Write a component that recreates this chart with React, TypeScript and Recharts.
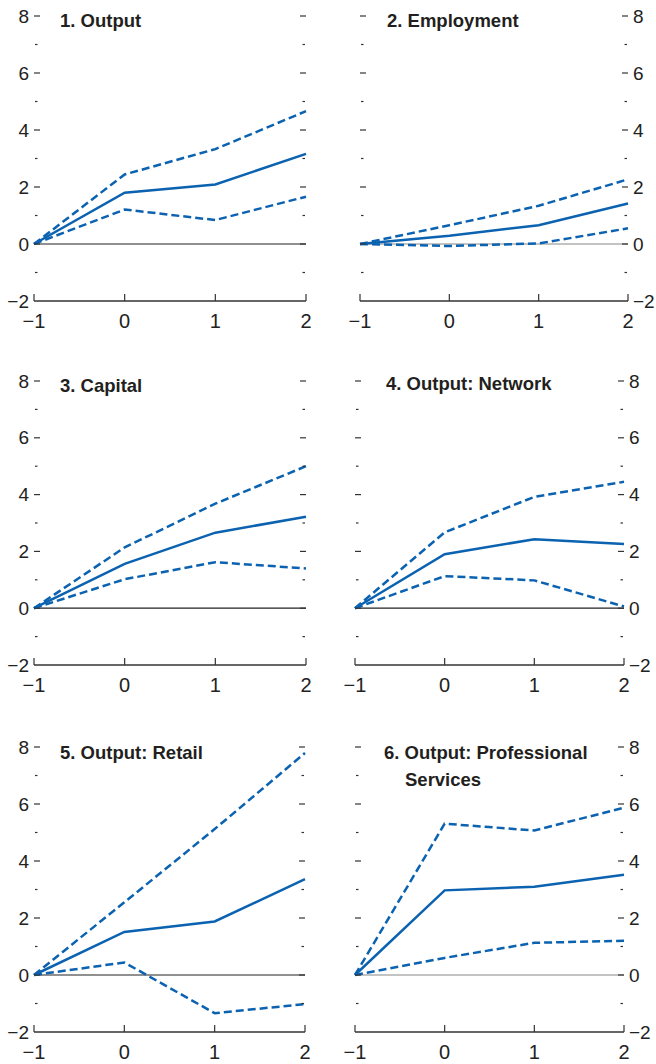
import React from "react";
import { LineChart, Line, XAxis, YAxis, ReferenceLine } from "recharts";

// horizon (years after shock)
const periods = [-1, 0, 1, 2];
const yTicks = [-2, -1, 0, 1, 2, 3, 4, 5, 6, 7, 8];

const outputMid = [0, 1.8, 2.09, 3.16];
const outputHi = [0, 2.44, 3.33, 4.66];
const outputLo = [0, 1.21, 0.84, 1.66];

const employmentMid = [0, 0.29, 0.66, 1.42];
const employmentHi = [0, 0.66, 1.34, 2.27];
const employmentLo = [0, -0.07, 0.02, 0.55];

const capitalMid = [0, 1.56, 2.66, 3.22];
const capitalHi = [0, 2.14, 3.68, 5.0];
const capitalLo = [0, 1.02, 1.62, 1.4];

const networkMid = [0, 1.9, 2.43, 2.26];
const networkHi = [0, 2.67, 3.92, 4.45];
const networkLo = [0, 1.13, 0.98, 0.06];

const retailMid = [0, 1.51, 1.88, 3.36];
const retailHi = [0, 2.55, 5.12, 7.79];
const retailLo = [0, 0.44, -1.34, -1.02];

const proMid = [0, 2.97, 3.1, 3.52];
const proHi = [0, 5.31, 5.07, 5.87];
const proLo = [0, 0.6, 1.13, 1.2];

const BLUE = "#0b62b0";
const AXIS = "#333";
const FONT = "'Liberation Sans', Arial, sans-serif";

function fmt(v: number) {
  return v < 0 ? `\u2212${Math.abs(v)}` : `${v}`;
}

function build(mid: number[], hi: number[], lo: number[]) {
  return periods.map((p, i) => ({ t: p, mid: mid[i], hi: hi[i], lo: lo[i] }));
}

// eslint-disable-next-line @typescript-eslint/no-explicit-any
function YTick({ x, y, payload, side, showLabel }: any) {
  const v = payload.value as number;
  const major = v % 2 === 0;
  const dir = side === "left" ? 1 : -1;
  const len = major ? 6 : 3.5;
  return (
    <g>
      {v !== -2 && (
        <line x1={x + dir * (major ? 0 : 1)} x2={x + dir * len} y1={y} y2={y} stroke={AXIS} strokeWidth={1.2} />
      )}
      {showLabel && major && (
        <text
          x={x - dir * 5}
          y={y}
          textAnchor={side === "left" ? "end" : "start"}
          dominantBaseline="central"
          fontSize={19}
          fontFamily={FONT}
          fill="#222"
        >
          {fmt(v)}
        </text>
      )}
    </g>
  );
}

// eslint-disable-next-line @typescript-eslint/no-explicit-any
function XTick({ x, y, payload }: any) {
  return (
    <g>
      <line x1={x} x2={x} y1={y} y2={y - 7} stroke={AXIS} strokeWidth={1.2} />
      <text x={x} y={y + 27} textAnchor="middle" fontSize={20} fontFamily={FONT} fill="#222">
        {fmt(payload.value)}
      </text>
    </g>
  );
}

interface PanelProps {
  title: string[];
  mid: number[];
  hi: number[];
  lo: number[];
  left: number;
  top: number;
  width: number;
  plotTop: number;
  plotHeight: number;
  leftW: number;
  rightW: number;
  labelSide: "left" | "right";
  zeroColor: string;
  titleLeft: number;
  titleTop: number;
}

function Panel(p: PanelProps) {
  const data = build(p.mid, p.hi, p.lo);
  const height = p.plotTop + p.plotHeight + 32;
  return (
    <div style={{ position: "absolute", left: p.left, top: p.top, width: p.width, height }}>
      <LineChart width={p.width} height={height} data={data} margin={{ top: p.plotTop, right: 0, bottom: 0, left: 0 }}>
        <XAxis
          dataKey="t"
          type="number"
          domain={[-1, 2]}
          ticks={periods}
          tickSize={0}
          tickMargin={0}
          height={32}
          axisLine={{ stroke: AXIS, strokeWidth: 1.5 }}
          tick={<XTick />}
        />
        <YAxis
          yAxisId="L"
          orientation="left"
          domain={[-2, 8]}
          ticks={yTicks}
          interval={0}
          width={p.leftW}
          tickSize={0}
          tickMargin={0}
          axisLine={false}
          tick={<YTick side="left" showLabel={p.labelSide === "left"} />}
        />
        <YAxis
          yAxisId="R"
          orientation="right"
          domain={[-2, 8]}
          ticks={yTicks}
          interval={0}
          width={p.rightW}
          tickSize={0}
          tickMargin={0}
          axisLine={false}
          tick={<YTick side="right" showLabel={p.labelSide === "right"} />}
        />
        <ReferenceLine yAxisId="L" y={0} stroke={p.zeroColor} strokeWidth={1.2} />
        {/* invisible twin so the right-hand axis gets drawn */}
        <Line yAxisId="R" dataKey="mid" stroke="#000" strokeOpacity={0} dot={false} activeDot={false} isAnimationActive={false} />
        <Line yAxisId="L" dataKey="hi" stroke={BLUE} strokeWidth={2.5} strokeDasharray="8 4" dot={false} isAnimationActive={false} />
        <Line yAxisId="L" dataKey="lo" stroke={BLUE} strokeWidth={2.5} strokeDasharray="8 4" dot={false} isAnimationActive={false} />
        <Line yAxisId="L" dataKey="mid" stroke={BLUE} strokeWidth={2.5} dot={false} isAnimationActive={false} />
      </LineChart>
      <div
        style={{
          position: "absolute",
          left: p.titleLeft - p.left,
          top: p.titleTop - p.top,
          fontFamily: FONT,
          fontWeight: 700,
          fontSize: 18.5,
          lineHeight: "27px",
          color: "#231f20",
          whiteSpace: "nowrap",
        }}
      >
        {p.title.map((line, i) => (
          <div key={i} style={{ paddingLeft: i > 0 ? 21 : 0 }}>
            {line}
          </div>
        ))}
      </div>
    </div>
  );
}

export default function App() {
  return (
    <div style={{ position: "relative", width: 656, height: 1064, background: "#fff", overflow: "hidden" }}>
      <style>{"body{margin:0;overflow:hidden}"}</style>
      <Panel title={["1. Output"]} mid={outputMid} hi={outputHi} lo={outputLo}
        left={0} top={0} width={330} plotTop={16} plotHeight={285} leftW={34} rightW={24}
        labelSide="left" zeroColor="#222" titleLeft={60} titleTop={7} />
      <Panel title={["2. Employment"]} mid={employmentMid} hi={employmentHi} lo={employmentLo}
        left={330} top={0} width={326} plotTop={16} plotHeight={285} leftW={30} rightW={28}
        labelSide="right" zeroColor="#888" titleLeft={387} titleTop={7} />
      <Panel title={["3. Capital"]} mid={capitalMid} hi={capitalHi} lo={capitalLo}
        left={0} top={364} width={330} plotTop={17} plotHeight={284} leftW={34} rightW={24}
        labelSide="left" zeroColor="#222" titleLeft={60} titleTop={372} />
      <Panel title={["4. Output: Network"]} mid={networkMid} hi={networkHi} lo={networkLo}
        left={330} top={364} width={326} plotTop={17} plotHeight={284} leftW={25} rightW={32}
        labelSide="right" zeroColor="#222" titleLeft={386} titleTop={370} />
      <Panel title={["5. Output: Retail"]} mid={retailMid} hi={retailHi} lo={retailLo}
        left={0} top={730} width={330} plotTop={17} plotHeight={285} leftW={34} rightW={25}
        labelSide="left" zeroColor="#222" titleLeft={60} titleTop={739} />
      <Panel title={["6. Output: Professional", "Services"]} mid={proMid} hi={proHi} lo={proLo}
        left={330} top={730} width={326} plotTop={17} plotHeight={285} leftW={25} rightW={32}
        labelSide="right" zeroColor="#888" titleLeft={384} titleTop={739} />
    </div>
  );
}
